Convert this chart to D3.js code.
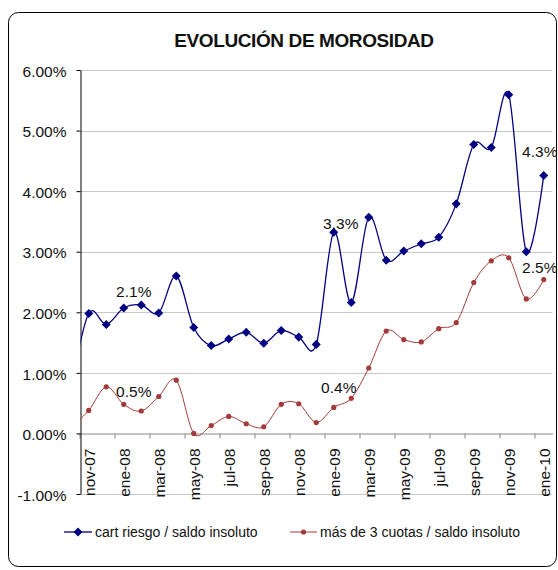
<!DOCTYPE html>
<html lang="es">
<head>
  <meta charset="UTF-8">
  <script src="https://d3js.org/d3.v7.min.js"></script>
  <style>
    body {
      margin: 0;
      background: #fff;
      font-family: "Liberation Sans", Arial, sans-serif;
    }
    svg text { fill: #111; }
    .grid line { stroke: #c8c8c8; stroke-width: 1; }
  </style>
</head>
<body>
  <div id="chart"></div>

  <script>
    // months shown on the category axis
    const months = ["nov-07", "dic-07", "ene-08", "feb-08", "mar-08", "abr-08", "may-08",
      "jun-08", "jul-08", "ago-08", "sep-08", "oct-08", "nov-08", "dic-08",
      "ene-09", "feb-09", "mar-09", "abr-09", "may-09", "jun-09", "jul-09",
      "ago-09", "sep-09", "oct-09", "nov-09", "dic-09", "ene-10"];

    // cart riesgo / saldo insoluto (%)
    const cartRiesgo = [1.98, 1.80, 2.07, 2.12, 1.99, 2.60, 1.75, 1.45, 1.56, 1.67, 1.49, 1.70,
      1.59, 1.47, 3.32, 2.16, 3.57, 2.86, 3.01, 3.13, 3.24, 3.79, 4.77, 4.72, 5.59, 3.00, 4.26];

    // más de 3 cuotas / saldo insoluto (%)
    const masTresCuotas = [0.38, 0.77, 0.48, 0.37, 0.61, 0.88, 0.00, 0.13, 0.28, 0.16, 0.11, 0.48,
      0.49, 0.18, 0.43, 0.58, 1.08, 1.69, 1.55, 1.51, 1.73, 1.83, 2.49, 2.85, 2.90, 2.22, 2.54];

    // oct-07 values, only the cut-off piece of the line is visible
    const prevCartRiesgo = 0.75;
    const prevMasTresCuotas = 0.10;

    const yTicks = [-1, 0, 1, 2, 3, 4, 5, 6];

    // data labels: series key, month
    const labelPoints = [
      ["cart", "ene-08"], ["cuotas", "ene-08"],
      ["cart", "ene-09"], ["cuotas", "ene-09"],
      ["cart", "ene-10"], ["cuotas", "ene-10"]
    ];

    const width = 558, height = 570;
    const plotLeft = 80, plotRight = 552.5, plotTop = 70, plotBottom = 494;

    const svg = d3.select("#chart").append("svg")
      .attr("width", width)
      .attr("height", height);

    // chart frame
    svg.append("rect")
      .attr("x", 8.5).attr("y", 12.5)
      .attr("width", 548).attr("height", 554)
      .attr("rx", 10)
      .attr("fill", "#fff")
      .attr("stroke", "#000")
      .attr("stroke-width", 1);

    svg.append("text")
      .attr("x", 304).attr("y", 47)
      .attr("text-anchor", "middle")
      .attr("font-size", 19)
      .attr("font-weight", "bold")
      .attr("letter-spacing", -0.4)
      .text("EVOLUCIÓN DE MOROSIDAD");

    const x = d3.scaleBand().domain(months).range([plotLeft, plotRight]);
    const bw = x.bandwidth();
    const cx = i => x(months[0]) + bw / 2 + i * bw;

    const y = d3.scaleLinear().domain([-1, 6]).range([plotBottom, plotTop]);

    // grid
    svg.append("g").attr("class", "grid")
      .selectAll("line")
      .data(yTicks.filter(d => d !== 0))
      .join("line")
      .attr("x1", plotLeft).attr("x2", plotRight)
      .attr("y1", d => Math.round(y(d)) + 0.5)
      .attr("y2", d => Math.round(y(d)) + 0.5);

    // category axis at 0%
    const y0 = Math.round(y(0)) + 0.5;
    const xAxis = svg.append("g")
      .attr("transform", `translate(0,${y0})`)
      .call(d3.axisBottom(x)
        .tickValues(months.filter((d, i) => i % 2 === 0))
        .tickSize(5)
        .tickSizeOuter(0));
    xAxis.select(".domain").attr("stroke", "#888");
    xAxis.selectAll(".tick line")
      .attr("stroke", "#888")
      .attr("transform", `translate(${-bw / 2},0)`);
    xAxis.selectAll(".tick text")
      .attr("font-size", 15.5)
      .attr("font-family", "'Liberation Sans', Arial, sans-serif")
      .attr("fill", "#111")
      .attr("text-anchor", "end")
      .attr("transform", "translate(1,15) rotate(-90)")
      .attr("x", 0).attr("y", 0).attr("dy", "0.35em");

    // value axis
    const yAxis = svg.append("g")
      .attr("transform", `translate(${plotLeft + 0.5},0)`)
      .call(d3.axisLeft(y)
        .tickValues(yTicks)
        .tickFormat(d => d.toFixed(2) + "%")
        .tickSize(4)
        .tickPadding(10)
        .tickSizeOuter(0));
    yAxis.select(".domain").attr("stroke", "#000");
    yAxis.selectAll(".tick line").attr("stroke", "#000");
    yAxis.selectAll(".tick text")
      .attr("font-size", 15.5)
      .attr("font-family", "'Liberation Sans', Arial, sans-serif")
      .attr("fill", "#111")
      .attr("dy", "0.4em");

    svg.append("clipPath").attr("id", "plot-clip")
      .append("rect")
      .attr("x", plotLeft + 0.5).attr("y", 0)
      .attr("width", plotRight - plotLeft).attr("height", height);

    const series = [
      { key: "cart", name: "cart riesgo / saldo insoluto", values: cartRiesgo, prev: prevCartRiesgo,
        color: "#000080", lw: 1.3, marker: "diamond" },
      { key: "cuotas", name: "más de 3 cuotas / saldo insoluto", values: masTresCuotas, prev: prevMasTresCuotas,
        color: "#a33a3a", lw: 1, marker: "circle" }
    ];

    const line = d3.line()
      .x(d => d[0]).y(d => d[1])
      .curve(d3.curveCatmullRom.alpha(0));

    const diamond = d3.symbol().type(d3.symbolDiamond2).size(52);

    function drawMarker(g, s, px, py) {
      if (s.marker === "diamond") {
        g.append("path")
          .attr("d", diamond())
          .attr("transform", `translate(${px},${py})`)
          .attr("fill", s.color);
      } else {
        g.append("circle")
          .attr("cx", px).attr("cy", py).attr("r", 2.6)
          .attr("fill", s.color);
      }
    }

    series.forEach(s => {
      const pts = [[cx(-1), y(s.prev)]].concat(s.values.map((v, i) => [cx(i), y(v)]));
      svg.append("path")
        .attr("d", line(pts))
        .attr("fill", "none")
        .attr("stroke", s.color)
        .attr("stroke-width", s.lw)
        .attr("clip-path", "url(#plot-clip)");
      const g = svg.append("g");
      s.values.forEach((v, i) => drawMarker(g, s, cx(i), y(v)));
    });

    // data labels, nudged by hand like the original
    const labelNudge = [[10, -11], [10, -7], [7, -3.5], [5, -14], [-4, -18], [-4, -7]];
    labelPoints.forEach(([key, m], k) => {
      const s = series.find(d => d.key === key);
      const i = months.indexOf(m);
      svg.append("text")
        .attr("x", cx(i) + labelNudge[k][0])
        .attr("y", y(s.values[i]) + labelNudge[k][1])
        .attr("text-anchor", "middle")
        .attr("font-size", 15.5)
        .text(s.values[i].toFixed(1) + "%");
    });

    // legend
    const legendY = 532;
    const legendPos = [[64, 92, 95], [290, 317, 320]];
    series.forEach((s, k) => {
      const [x1, x2, tx] = legendPos[k];
      const g = svg.append("g");
      g.append("line")
        .attr("x1", x1).attr("x2", x2)
        .attr("y1", legendY).attr("y2", legendY)
        .attr("stroke", s.color).attr("stroke-width", s.lw);
      drawMarker(g, s, (x1 + x2) / 2, legendY);
      g.append("text")
        .attr("x", tx).attr("y", legendY)
        .attr("dy", "0.35em")
        .attr("font-size", 14)
        .text(s.name);
    });
  </script>
</body>
</html>
